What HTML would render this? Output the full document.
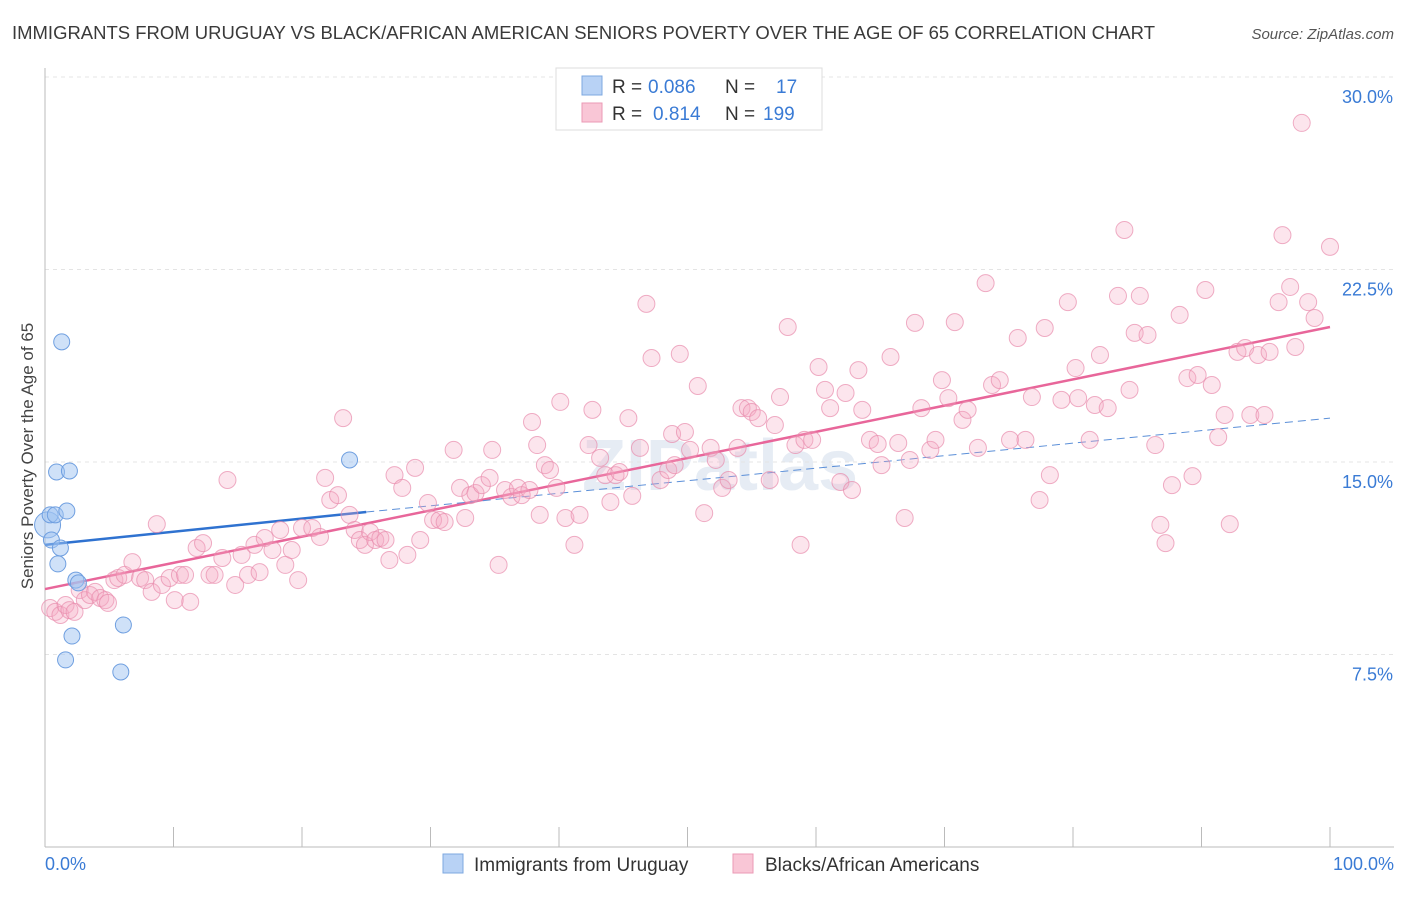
<!DOCTYPE html>
<html><head><meta charset="utf-8"><style>
body{margin:0;background:#fff;font-family:"Liberation Sans",sans-serif}
svg text{font-family:"Liberation Sans",sans-serif}
</style></head><body>
<svg id="chart" width="1406" height="892" viewBox="0 0 1406 892" xmlns="http://www.w3.org/2000/svg">
<text x="12" y="39" font-size="18.6" fill="#3a3a3a" textLength="1143" lengthAdjust="spacingAndGlyphs">IMMIGRANTS FROM URUGUAY VS BLACK/AFRICAN AMERICAN SENIORS POVERTY OVER THE AGE OF 65 CORRELATION CHART</text>
<text x="1394" y="39" font-size="15" fill="#555" text-anchor="end" font-style="italic">Source: ZipAtlas.com</text>
<text transform="translate(33,456) rotate(-90)" font-size="17" fill="#444" text-anchor="middle">Seniors Poverty Over the Age of 65</text>
<text x="720" y="490" font-size="72" font-weight="bold" fill="#c9d6e8" opacity="0.45" text-anchor="middle">ZIPatlas</text>
<g id="grid"></g><g id="axes"></g><g id="lines"></g><g id="pts"></g>
<g>
<rect x="556" y="68" width="266" height="62" fill="#fff" stroke="#ddd"/>
<rect x="582" y="76" width="20" height="19" fill="#b8d2f5" stroke="#7ea8e0"/>
<text x="612" y="93" font-size="19" fill="#333">R =</text>
<text x="648" y="93" font-size="19" fill="#3a7bd5">0.086</text>
<text x="725" y="93" font-size="19" fill="#333">N =</text>
<text x="776" y="93" font-size="19" fill="#3a7bd5">17</text>
<rect x="582" y="103" width="20" height="19" fill="#f9c6d6" stroke="#eb9ab5"/>
<text x="612" y="120" font-size="19" fill="#333">R =</text>
<text x="653" y="120" font-size="19" fill="#3a7bd5">0.814</text>
<text x="725" y="120" font-size="19" fill="#333">N =</text>
<text x="763" y="120" font-size="19" fill="#3a7bd5">199</text>
</g>
<g>
<rect x="443" y="854" width="20" height="19" fill="#b8d2f5" stroke="#7ea8e0"/>
<text x="474" y="871" font-size="19" fill="#333">Immigrants from Uruguay</text>
<rect x="733" y="854" width="20" height="19" fill="#f9c6d6" stroke="#eb9ab5"/>
<text x="765" y="871" font-size="19" fill="#333">Blacks/African Americans</text>
</g>
</svg>
<script>
const yTicks=[7.5,15,22.5,30];
const yTickLabels=["7.5%","15.0%","22.5%","30.0%"];
const xEndLabels=["0.0%","100.0%"];
const blueX=[0.2,0.4,0.8,0.5,1.3,0.9,1.9,1.7,1.2,1.0,2.4,2.6,2.1,1.6,6.1,5.9,23.7];
const blueY=[12.55,12.94,12.94,11.96,19.68,14.61,14.65,13.09,11.65,11.03,10.40,10.29,8.22,7.29,8.65,6.82,15.08];
const pinkX=[0.4,0.8,1.2,1.6,1.9,2.3,2.7,3.1,3.5,3.9,4.3,4.7,4.9,5.4,5.7,6.2,6.8,7.4,7.8,8.3,8.7,9.1,9.7,10.1,10.5,10.9,11.3,11.8,12.3,12.8,13.2,13.8,14.2,14.8,15.3,15.8,16.3,16.7,17.1,17.7,18.3,18.7,19.2,19.7,20.0,20.8,21.4,21.8,22.2,22.8,23.2,23.7,24.1,24.5,24.9,25.3,25.7,26.1,26.5,26.8,27.2,27.8,28.2,28.8,29.2,29.8,30.2,30.7,31.1,31.8,32.3,32.7,33.1,33.5,34.0,34.6,34.8,35.3,35.8,36.3,36.8,37.1,37.7,37.9,38.3,38.5,38.9,39.3,39.8,40.1,40.5,41.2,41.6,42.3,42.6,43.2,43.6,44.0,44.4,44.7,45.4,45.7,46.3,46.8,47.2,47.9,48.5,48.8,49.0,49.4,49.8,50.2,50.8,51.3,51.8,52.2,52.7,53.2,53.9,54.2,54.7,55.0,55.5,56.4,56.8,57.2,57.8,58.4,58.8,59.1,59.7,60.2,60.7,61.1,61.9,62.3,62.8,63.3,63.6,64.2,64.8,65.1,65.8,66.4,66.9,67.3,67.7,68.2,68.9,69.3,69.8,70.3,70.8,71.4,71.8,72.6,73.2,73.7,74.3,75.1,75.7,76.3,76.8,77.4,77.8,78.2,79.1,79.6,80.2,80.4,81.3,81.7,82.1,82.7,83.5,84.0,84.4,84.8,85.2,85.8,86.4,86.8,87.2,87.7,88.3,88.9,89.3,89.7,90.3,90.8,91.3,91.8,92.2,92.8,93.4,93.8,94.4,94.9,95.3,96.0,96.3,96.9,97.3,97.8,98.3,98.8,100.0];
const pinkY=[9.31,9.16,9.04,9.43,9.23,9.16,10.01,9.62,9.82,9.94,9.70,9.62,9.51,10.40,10.48,10.60,11.10,10.48,10.40,9.94,12.58,10.21,10.48,9.62,10.60,10.60,9.55,11.65,11.84,10.60,10.60,11.26,14.30,10.21,11.38,10.60,11.77,10.71,12.04,11.57,12.35,10.99,11.57,10.40,12.43,12.43,12.08,14.38,13.52,13.71,16.71,12.94,12.35,11.96,11.77,12.27,11.96,12.04,11.96,11.18,14.49,13.99,11.38,14.77,11.96,13.40,12.74,12.74,12.66,15.47,13.99,12.82,13.71,13.79,14.10,14.38,15.47,10.99,13.91,13.64,13.99,13.71,13.91,16.56,15.66,12.94,14.88,14.69,13.99,17.34,12.82,11.77,12.94,15.66,17.03,15.16,14.49,13.44,14.49,14.61,16.71,13.68,15.55,21.16,19.05,14.30,14.69,16.09,14.88,19.21,16.17,15.47,17.96,13.01,15.55,15.08,13.99,14.30,15.55,17.10,17.10,16.95,16.71,14.30,16.44,17.53,20.26,15.66,11.77,15.86,15.86,18.70,17.81,17.10,14.22,17.69,13.91,18.58,17.03,15.86,15.70,14.88,19.09,15.74,12.82,15.08,20.42,17.10,15.47,15.86,18.19,17.49,20.45,16.64,17.03,15.55,21.97,18.00,18.19,15.86,19.83,15.86,17.53,13.52,20.22,14.49,17.42,21.23,18.66,17.49,15.86,17.22,19.17,17.10,21.47,24.04,17.81,20.03,21.47,19.95,15.66,12.55,11.84,14.10,20.73,18.27,14.45,18.39,21.70,18.00,15.97,16.83,12.58,19.29,19.44,16.83,19.17,16.83,19.29,21.23,23.84,21.82,19.48,28.21,21.23,20.61,23.38];
const blueLine=[11.77,13.05,16.71]; // y at x=0, 25, 100
const pinkLine=[10.05,20.26]; // y at x=0, 100
const NS="http://www.w3.org/2000/svg";
const sx=v=>45+v*12.85, sy=v=>847-v*25.667;
function mk(tag,attrs,parent){const e=document.createElementNS(NS,tag);for(const k in attrs)e.setAttribute(k,attrs[k]);document.getElementById(parent).appendChild(e);return e;}
yTicks.forEach((t,i)=>{
 const g=mk('line',{x1:45,x2:1394,y1:sy(t),y2:sy(t),stroke:'#e4e4e4','stroke-dasharray':'4,4'},'grid');
 
 
 const l=mk('text',{x:1393,y:sy(t)+26,'font-size':18,fill:'#3a7bd5','text-anchor':'end'},'grid');
 l.textContent=yTickLabels[i];
 
 
});
mk('line',{x1:45,x2:45,y1:68,y2:847,stroke:'#bbb'},'axes');
mk('line',{x1:45,x2:1394,y1:847,y2:847,stroke:'#bbb'},'axes');
for(let i=0;i<=10;i++){const t=mk('line',{x1:sx(i*10),x2:sx(i*10),y1:827,y2:847,stroke:'#bbb'},'axes');}
const x0=mk('text',{x:45,y:870,'font-size':18,fill:'#3a7bd5'},'axes');x0.textContent=xEndLabels[0];


const x1=mk('text',{x:1394,y:870,'font-size':18,fill:'#3a7bd5','text-anchor':'end'},'axes');x1.textContent=xEndLabels[1];


pinkX.forEach((x,i)=>{const c=mk('circle',{cx:sx(x),cy:sy(pinkY[i]),r:8.5,fill:'rgba(246,170,196,0.3)',stroke:'rgba(232,140,172,0.7)','stroke-width':1},'pts');
 
 });
blueX.forEach((x,i)=>{const c=mk('circle',{cx:sx(x),cy:sy(blueY[i]),r:i===0?13:8,fill:'rgba(160,196,242,0.5)',stroke:'#6f9fe0','stroke-width':1},'pts');
 
 });
const pl=mk('line',{x1:sx(0),y1:sy(pinkLine[0]),x2:sx(100),y2:sy(pinkLine[1]),stroke:'#e8669a','stroke-width':2.5},'lines');


const bl=mk('line',{x1:sx(0),y1:sy(blueLine[0]),x2:sx(25),y2:sy(blueLine[1]),stroke:'#2f72d0','stroke-width':2.5},'lines');


const bd=mk('line',{x1:sx(25),y1:sy(blueLine[1]),x2:sx(100),y2:sy(blueLine[2]),stroke:'#5b8fd8','stroke-width':1,'stroke-dasharray':'8,5'},'lines');


</script>
</body></html>
